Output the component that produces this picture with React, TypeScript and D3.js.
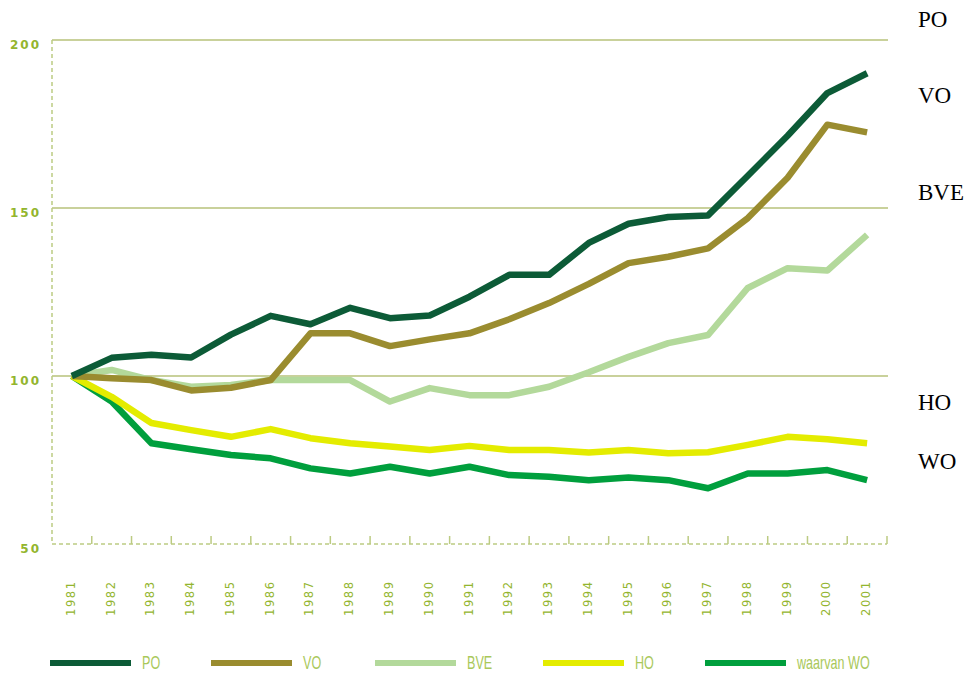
import * as d3 from 'd3'
import { useEffect, useRef } from 'react'

const years = [
  '1981', '1982', '1983', '1984', '1985', '1986', '1987', '1988', '1989', '1990', '1991',
  '1992', '1993', '1994', '1995', '1996', '1997', '1998', '1999', '2000', '2001',
]

const po = [100, 105.4, 106.3, 105.5, 112.3, 117.9, 115.4, 120.3, 117.2, 118, 123.6, 130.1, 130.1, 139.6, 145.3, 147.3, 147.8, 159.6, 171.5, 184.2, 190.1]
const vo = [100, 99.3, 98.8, 95.7, 96.5, 98.8, 112.7, 112.7, 108.9, 110.9, 112.7, 116.9, 121.7, 127.4, 133.6, 135.5, 138, 147, 159, 174.8, 172.5]
const bve = [100, 101.8, 98.8, 96.8, 97.3, 98.8, 98.8, 98.8, 92.4, 96.4, 94.3, 94.3, 96.8, 101.1, 105.7, 109.8, 112.2, 126.2, 132.1, 131.4, 142]
const ho = [100, 93.8, 86, 83.9, 81.9, 84.2, 81.5, 80, 79, 78, 79.2, 78, 78, 77.2, 78, 77, 77.3, 79.5, 81.9, 81.2, 80]
const wo = [100, 92.4, 80, 78.2, 76.5, 75.5, 72.5, 71, 73, 71, 73, 70.5, 70, 69, 69.8, 69, 66.6, 71, 71, 72, 69]

const yTicks = [50, 100, 150, 200]
const gridValues = [100, 150, 200]

const series = [
  { key: 'PO', legend: 'PO', values: po, color: '#0c5b37' },
  { key: 'VO', legend: 'VO', values: vo, color: '#9a8c2f' },
  { key: 'BVE', legend: 'BVE', values: bve, color: '#b3d99b' },
  { key: 'HO', legend: 'HO', values: ho, color: '#e4ec00' },
  { key: 'WO', legend: 'waarvan WO', values: wo, color: '#009f3d' },
]

// labels to the right of the chart (baseline given in chart units)
const sideLabels = [
  { text: 'PO', value: 204 },
  { text: 'VO', value: 181.3 },
  { text: 'BVE', value: 152.4 },
  { text: 'HO', value: 90 },
  { text: 'WO', value: 72.3 },
]

const legendX = [50, 211, 375, 543, 705]

const App = () => {
  const ref = useRef<HTMLDivElement>(null)

  useEffect(() => {
    if (!ref.current) return
    const width = 969
    const height = 674

    d3.select(ref.current).select('svg').remove()

    const svg = d3
      .select(ref.current)
      .append('svg')
      .attr('width', width)
      .attr('height', height)
      .style('display', 'block')

    const x = d3.scaleBand<string>().domain(years).range([52, 887])
    const y = d3.scaleLinear().domain([50, 200]).range([544, 40])
    const cx = (d: string) => (x(d) as number) + x.bandwidth() / 2

    const axisColor = '#bccb82'
    const textColor = '#93b52e'

    // grid
    svg
      .append('g')
      .selectAll('line')
      .data(gridValues)
      .enter()
      .append('line')
      .attr('x1', 52)
      .attr('x2', 888)
      .attr('y1', (d) => y(d))
      .attr('y2', (d) => y(d))
      .attr('stroke', '#b7c27a')
      .attr('stroke-width', 1.5)

    // dashed axes
    svg
      .append('line')
      .attr('x1', 52)
      .attr('x2', 52)
      .attr('y1', y(200))
      .attr('y2', y(50))
      .attr('stroke', axisColor)
      .attr('stroke-width', 1.5)
      .attr('stroke-dasharray', '4,3')

    svg
      .append('line')
      .attr('x1', 52)
      .attr('x2', 887)
      .attr('y1', y(50))
      .attr('y2', y(50))
      .attr('stroke', axisColor)
      .attr('stroke-width', 1.5)
      .attr('stroke-dasharray', '4,3')

    svg
      .append('g')
      .selectAll('line')
      .data(years)
      .enter()
      .append('line')
      .attr('x1', (d) => (x(d) as number) + x.bandwidth())
      .attr('x2', (d) => (x(d) as number) + x.bandwidth())
      .attr('y1', y(50) - 8)
      .attr('y2', y(50))
      .attr('stroke', axisColor)
      .attr('stroke-width', 1.5)

    // y labels
    svg
      .append('g')
      .selectAll('text')
      .data(yTicks)
      .enter()
      .append('text')
      .attr('x', 41)
      .attr('y', (d) => y(d) + 9)
      .attr('text-anchor', 'end')
      .attr('fill', textColor)
      .style('font-family', 'DejaVu Sans, sans-serif')
      .style('font-size', '12px')
      .style('font-weight', 'bold')
      .style('letter-spacing', '2px')
      .text((d) => d)

    // x labels
    svg
      .append('g')
      .selectAll('text')
      .data(years)
      .enter()
      .append('text')
      .attr('transform', (d) => `translate(${cx(d) - 1},616) rotate(-90)`)
      .attr('dy', '0.35em')
      .attr('fill', textColor)
      .style('font-family', 'DejaVu Sans, sans-serif')
      .style('font-size', '11.5px')
      .style('letter-spacing', '1.6px')
      .text((d) => d)

    // lines
    const line = d3
      .line<number>()
      .x((_, i) => cx(years[i]))
      .y((d) => y(d))

    svg
      .append('g')
      .selectAll('path')
      .data(series.slice().reverse())
      .enter()
      .append('path')
      .attr('d', (d) => line(d.values))
      .attr('fill', 'none')
      .attr('stroke', (d) => d.color)
      .attr('stroke-width', 6.5)
      .attr('stroke-linejoin', 'round')

    // side labels
    svg
      .append('g')
      .selectAll('text')
      .data(sideLabels)
      .enter()
      .append('text')
      .attr('x', 918)
      .attr('y', (d) => y(d.value))
      .attr('fill', '#000')
      .style('font-family', 'Liberation Serif, Times New Roman, serif')
      .style('font-size', '23px')
      .text((d) => d.text)

    // legend
    const legend = svg
      .append('g')
      .selectAll('g')
      .data(series)
      .enter()
      .append('g')
      .attr('transform', (_, i) => `translate(${legendX[i]},663)`)

    legend
      .append('line')
      .attr('x1', 0)
      .attr('x2', 81)
      .attr('stroke', (d) => d.color)
      .attr('stroke-width', 6)

    legend
      .append('text')
      .attr('transform', 'translate(92,0) scale(0.7,1)')
      .attr('dy', '0.36em')
      .attr('fill', '#a9c85a')
      .style('font-family', 'Liberation Sans, Arial, sans-serif')
      .style('font-size', '18px')
      .text((d) => d.legend)
  }, [])

  return (
    <div style={{ position: 'absolute', left: 0, top: 0 }}>
      <div ref={ref} />
    </div>
  )
}

export default App
